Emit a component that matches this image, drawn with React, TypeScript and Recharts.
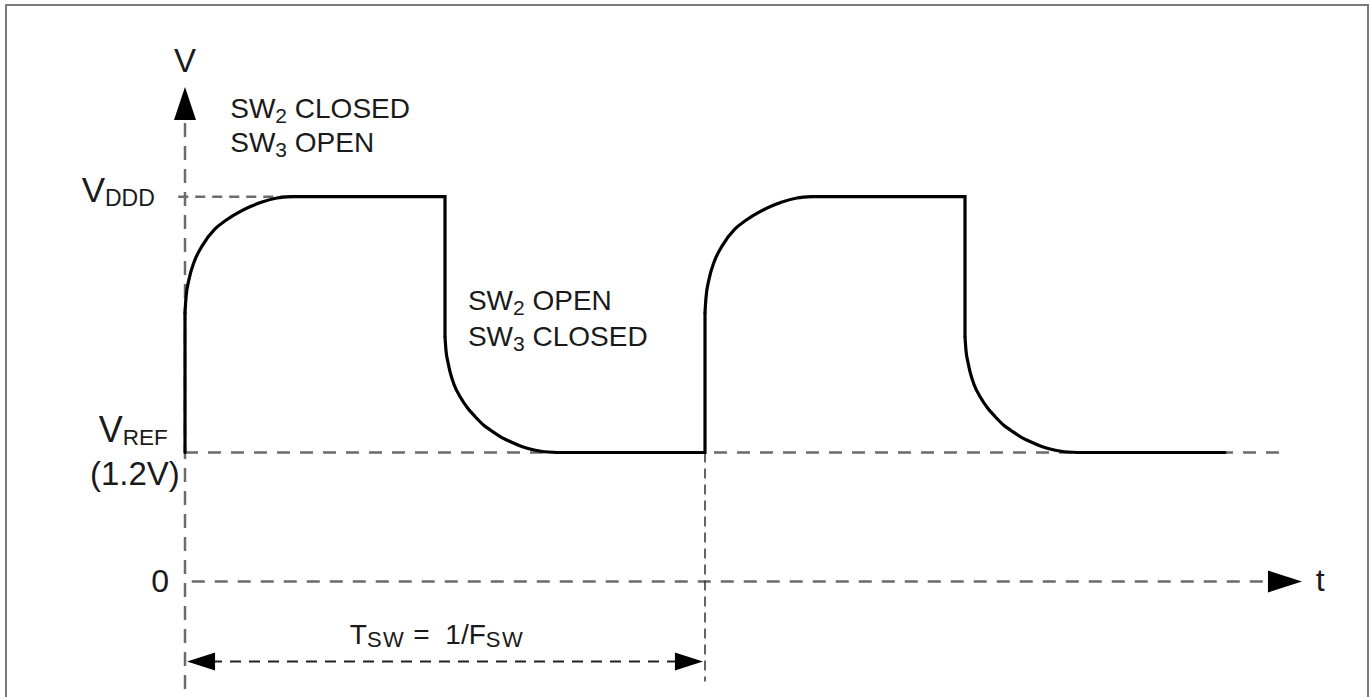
import React from 'react';
import { LineChart, Line, XAxis, YAxis, ReferenceLine, ReferenceDot } from 'recharts';

// time in % of T_SW, voltage in volts
// straight parts (vertical edges and flat levels)
const edgeT = [0, 0, 20.6, 50, 50, 71.73, 100, 100, 120.6, 150, 150, 171.73, 200];
const edgeV = [1.2, 2.5, 3.58, 3.58, 2.279, 1.2, 1.2, 2.5, 3.58, 3.58, 2.279, 1.2, 1.2];

// rounded charge / discharge parts
const riseT1 = [0, 0.19, 0.77, 1.73, 3.27, 5.77, 7.88, 10.58, 12.69, 14.81, 17.69, 20.6];
const riseV1 = [2.5, 2.64, 2.81, 2.97, 3.12, 3.28, 3.36, 3.44, 3.49, 3.53, 3.567, 3.58];
const fallT1 = [50, 50.19, 50.58, 50.96, 51.73, 52.88, 54.42, 55.77, 57.5, 58.85, 60.77, 62.5, 64.62, 66.35, 68.46, 71.73];
const fallV1 = [2.279, 2.149, 2.037, 1.953, 1.833, 1.721, 1.609, 1.535, 1.451, 1.405, 1.344, 1.302, 1.259, 1.233, 1.212, 1.2];
const riseT2 = [100, 100.19, 100.77, 101.73, 103.27, 105.77, 107.88, 110.58, 112.69, 114.81, 117.69, 120.6];
const riseV2 = [2.5, 2.64, 2.81, 2.97, 3.12, 3.28, 3.36, 3.44, 3.49, 3.53, 3.567, 3.58];
const fallT2 = [150, 150.19, 150.58, 150.96, 151.73, 152.88, 154.42, 155.77, 157.5, 158.85, 160.77, 162.5, 164.62, 166.35, 168.46, 171.73];
const fallV2 = [2.279, 2.149, 2.037, 1.953, 1.833, 1.721, 1.609, 1.535, 1.451, 1.405, 1.344, 1.302, 1.259, 1.233, 1.212, 1.2];

const V_REF = 1.2;
const V_DDD = 3.58;
const T_SW = 100;

type Row = { t: number; edge: number | null; curve: number | null };

// one ordered table: straight rows and curve rows interleaved, each key null where it doesn't draw
const rows: Row[] = [];
const pushEdge = (from: number, to: number) => {
  for (let i = from; i <= to; i++) rows.push({ t: edgeT[i], edge: edgeV[i], curve: null });
};
const pushCurve = (ts: number[], vs: number[]) => {
  ts.forEach((t, i) => rows.push({ t, edge: null, curve: vs[i] }));
};
pushEdge(0, 1);
pushCurve(riseT1, riseV1);
pushEdge(2, 4);
pushCurve(fallT1, fallV1);
pushEdge(5, 7);
pushCurve(riseT2, riseV2);
pushEdge(8, 10);
pushCurve(fallT2, fallV2);
pushEdge(11, 12);

const FONT = '"Liberation Sans", Arial, sans-serif';
const TEXT = '#1a1a1a';
const DASH_GRAY = '#6b6b6b';

type Part = { text: string; size: number; shift?: number; ls?: number; dx?: number };

const sw = (n: string, rest: string): Part[] => [
  { text: 'SW', size: 28 },
  { text: n, size: 21, shift: 5 },
  { text: rest, size: 28 },
];

function makeLabel(parts: Part[], anchor: 'start' | 'middle' | 'end') {
  return (props: any) => {
    const { cx, cy } = props;
    let cur = 0;
    return (
      <text x={cx} y={cy} textAnchor={anchor} fontFamily={FONT} fill={TEXT}>
        {parts.map((p, i) => {
          const target = p.shift ?? 0;
          const dy = target - cur;
          cur = target;
          return (
            <tspan key={i} dy={dy} dx={p.dx} fontSize={p.size} letterSpacing={p.ls}>
              {p.text}
            </tspan>
          );
        })}
      </text>
    );
  };
}

const arrowUp = (props: any) => {
  const { cx, cy } = props;
  return <polygon points={`${cx},${cy} ${cx - 11},${cy + 33} ${cx + 11},${cy + 33}`} fill="#000" />;
};
const arrowRight = (len: number, half: number) => (props: any) => {
  const { cx, cy } = props;
  return <polygon points={`${cx},${cy} ${cx - len},${cy - half} ${cx - len},${cy + half}`} fill="#000" />;
};
const arrowLeft = (len: number, half: number) => (props: any) => {
  const { cx, cy } = props;
  return <polygon points={`${cx},${cy} ${cx + len},${cy - half} ${cx + len},${cy + half}`} fill="#000" />;
};

export default function App() {
  return (
    <div style={{ position: 'absolute', left: 0, top: 0, width: 1370, height: 697, overflow: 'hidden', background: '#fff' }}>
      <div
        style={{
          position: 'absolute',
          left: 5,
          top: 4,
          width: 1364,
          height: 720,
          border: '2px solid #7a7a7a',
          boxSizing: 'border-box',
        }}
      />
      <LineChart
        width={1370}
        height={697}
        data={rows}
        margin={{ top: 44, right: 15, bottom: 8, left: 29 }}
        style={{ position: 'absolute', left: 0, top: 0 }}
      >
        <XAxis type="number" dataKey="t" domain={[-30, 225]} hide allowDataOverflow />
        <YAxis type="number" domain={[-1, 5]} hide allowDataOverflow />

        {/* V axis */}
        <ReferenceLine
          segment={[{ x: 0, y: -1 }, { x: 0, y: 4.3 }]}
          stroke={DASH_GRAY}
          strokeWidth={2.5}
          strokeDasharray="14 9"
          ifOverflow="visible"
        />
        {/* t axis */}
        <ReferenceLine
          segment={[{ x: 1.3, y: 0 }, { x: 208.3, y: 0 }]}
          stroke={DASH_GRAY}
          strokeWidth={2.5}
          strokeDasharray="13 10"
          ifOverflow="visible"
        />
        {/* V_REF level */}
        <ReferenceLine
          segment={[{ x: 0, y: V_REF }, { x: 211.9, y: V_REF }]}
          stroke={DASH_GRAY}
          strokeWidth={2.5}
          strokeDasharray="13 10"
          ifOverflow="visible"
        />
        {/* V_DDD level */}
        <ReferenceLine
          segment={[{ x: -1.3, y: V_DDD }, { x: 22, y: V_DDD }]}
          stroke={DASH_GRAY}
          strokeWidth={2.5}
          strokeDasharray="10 7"
          ifOverflow="visible"
        />
        {/* period marker */}
        <ReferenceLine
          segment={[{ x: T_SW, y: V_REF }, { x: T_SW, y: -0.93 }]}
          stroke="#333"
          strokeWidth={1.5}
          strokeDasharray="10 6"
          ifOverflow="visible"
        />
        {/* T_SW dimension line */}
        <ReferenceLine
          segment={[{ x: 5, y: -0.744 }, { x: 95, y: -0.744 }]}
          stroke="#222"
          strokeWidth={2}
          strokeDasharray="11 8"
          ifOverflow="visible"
        />

        <Line
          type="linear"
          dataKey="edge"
          stroke="#000"
          strokeWidth={3.2}
          strokeLinecap="round"
          dot={false}
          activeDot={false}
          isAnimationActive={false}
        />
        <Line
          type="monotone"
          dataKey="curve"
          stroke="#000"
          strokeWidth={3.2}
          strokeLinecap="round"
          dot={false}
          activeDot={false}
          isAnimationActive={false}
        />

        <ReferenceDot x={0} y={4.6} r={1} shape={arrowUp} ifOverflow="visible" />
        <ReferenceDot x={214.8} y={0} r={1} shape={arrowRight(34, 11)} ifOverflow="visible" />
        <ReferenceDot x={0.4} y={-0.744} r={1} shape={arrowLeft(28, 9)} ifOverflow="visible" />
        <ReferenceDot x={99.6} y={-0.744} r={1} shape={arrowRight(28, 9)} ifOverflow="visible" />

        <ReferenceDot x={0} y={4.735} r={1} shape={makeLabel([{ text: 'V', size: 33 }], 'middle')} ifOverflow="visible" />
        <ReferenceDot x={218.3} y={-0.093} r={1} shape={makeLabel([{ text: 't', size: 32 }], 'middle')} ifOverflow="visible" />
        <ReferenceDot x={-4.8} y={-0.1} r={1} shape={makeLabel([{ text: '0', size: 32 }], 'middle')} ifOverflow="visible" />
        <ReferenceDot
          x={-5.8}
          y={3.526}
          r={1}
          shape={makeLabel([{ text: 'V', size: 35 }, { text: 'DDD', size: 23, shift: 4 }], 'end')}
          ifOverflow="visible"
        />
        <ReferenceDot
          x={-3.3}
          y={1.302}
          r={1}
          shape={makeLabel([{ text: 'V', size: 36 }, { text: 'REF', size: 22.5, shift: 3 }], 'end')}
          ifOverflow="visible"
        />
        <ReferenceDot x={-1} y={0.9} r={1} shape={makeLabel([{ text: '(1.2V)', size: 33 }], 'end')} ifOverflow="visible" />
        <ReferenceDot x={8.7} y={4.316} r={1} shape={makeLabel(sw('2', ' CLOSED'), 'start')} ifOverflow="visible" />
        <ReferenceDot x={8.7} y={4.0} r={1} shape={makeLabel(sw('3', ' OPEN'), 'start')} ifOverflow="visible" />
        <ReferenceDot x={54.4} y={2.53} r={1} shape={makeLabel(sw('2', ' OPEN'), 'start')} ifOverflow="visible" />
        <ReferenceDot x={54.4} y={2.195} r={1} shape={makeLabel(sw('3', ' CLOSED'), 'start')} ifOverflow="visible" />
        <ReferenceDot
          x={31.7}
          y={-0.586}
          r={1}
          shape={makeLabel(
            [
              { text: 'T', size: 28 },
              { text: 'SW', size: 22, shift: 3, ls: 1.5 },
              { text: ' = ', size: 28 },
              { text: '1/F', size: 28, dx: 8 },
              { text: 'SW', size: 22, shift: 3, ls: 1.5 },
            ],
            'start',
          )}
          ifOverflow="visible"
        />
      </LineChart>
    </div>
  );
}
